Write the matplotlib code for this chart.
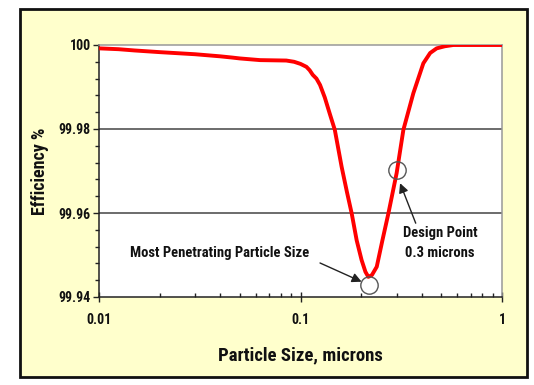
import matplotlib
matplotlib.use("Agg")
import matplotlib.pyplot as plt
from matplotlib.patches import Rectangle
from matplotlib.ticker import FixedLocator, LogLocator, NullFormatter
from matplotlib import font_manager

# ---- data ----
particle_size = [0.01, 0.0125, 0.015, 0.02, 0.03, 0.04, 0.046, 0.05, 0.063, 0.085,
                 0.093, 0.1, 0.107, 0.111, 0.115, 0.12, 0.125, 0.132, 0.14, 0.148,
                 0.16, 0.17, 0.1795, 0.19, 0.201, 0.21, 0.217, 0.226, 0.239, 0.255,
                 0.273, 0.30, 0.324, 0.363, 0.407, 0.44, 0.474, 0.52, 0.573, 0.7, 1.0]
efficiency = [99.9992, 99.9990, 99.9987, 99.9983, 99.9978, 99.9973, 99.9970, 99.9968,
              99.9964, 99.9963, 99.9960, 99.9955, 99.9948, 99.9940, 99.9929, 99.9920,
              99.9905, 99.9875, 99.9835, 99.9798, 99.9710, 99.9650, 99.9599, 99.9535,
              99.9488, 99.9460, 99.9448, 99.9452, 99.9472, 99.9535, 99.9599, 99.9695,
              99.9798, 99.9885, 99.99564, 99.9981, 99.9992, 99.9997, 100.0, 100.0, 100.0]
y_ticks = [99.94, 99.96, 99.98, 100.0]
y_tick_labels = ["99.94", "99.96", "99.98", "100"]
x_ticks = [0.01, 0.1, 1]
x_tick_labels = ["0.01", "0.1", "1"]
mpps_point = (0.22, 99.9429)
design_point = (0.30, 99.9702)


def _w(v):
    if isinstance(v, (int, float)):
        return v
    return {"bold": 700, "heavy": 800, "black": 900, "semibold": 600, "demibold": 600}.get(str(v).lower(), 400)


bold_fams = {f.name for f in font_manager.fontManager.ttflist if _w(f.weight) >= 700}
cands = ["Liberation Sans Narrow", "Archivo Narrow", "Roboto Condensed",
         "Fira Sans Condensed", "Asap Condensed", "IBM Plex Sans Condensed",
         "Barlow Semi Condensed", "Encode Sans Semi Condensed", "PT Sans Narrow"]
fam = [c for c in cands if c in bold_fams][:1]
fam += ["DejaVu Sans"]
plt.rcParams["font.family"] = fam
plt.rcParams["font.stretch"] = "condensed"

W, H = 534, 385
fig = plt.figure(figsize=(W / 100, H / 100), dpi=100)
fig.patch.set_facecolor("white")

# yellow frame
fig.patches.append(Rectangle((20 / W, 1 - 377 / H), (527 - 20) / W, (377 - 9) / H,
                             transform=fig.transFigure, facecolor="#FFFFCC",
                             edgecolor="#111111", linewidth=2, zorder=-10))

ax = fig.add_axes([99 / W, 1 - 297 / H, (502 - 99) / W, (297 - 45) / H])
ax.set_zorder(1)
ax.set_facecolor("white")
ax.set_xscale("log")
ax.set_xlim(0.01, 1)
ax.set_ylim(99.94, 100.0)

for yv in [99.96, 99.98]:
    ax.axhline(yv, color="#444444", linewidth=1.1, zorder=1)

ax.plot(particle_size, efficiency, color="#FF0000", linewidth=2.8, zorder=3,
        solid_joinstyle="round", solid_capstyle="round")

ax.spines["left"].set_color("#222222")
ax.spines["bottom"].set_color("#222222")
ax.spines["top"].set_color("#999999")
ax.spines["right"].set_color("#999999")
for s in ax.spines.values():
    s.set_linewidth(1.1)

ax.yaxis.set_major_locator(FixedLocator(y_ticks))
ax.set_yticklabels(y_tick_labels)
ax.yaxis.set_minor_locator(FixedLocator([99.94 + 0.004 * i for i in range(16)]))
ax.xaxis.set_major_locator(FixedLocator(x_ticks))
ax.set_xticklabels(x_tick_labels)
ax.xaxis.set_minor_locator(LogLocator(base=10, subs=range(2, 10)))
ax.xaxis.set_minor_formatter(NullFormatter())

ax.tick_params(axis="y", which="major", direction="out", length=4, width=1,
               labelsize=10, pad=2, colors="#222222")
ax.tick_params(axis="y", which="minor", direction="out", length=3, width=1, colors="#222222")
ax.tick_params(axis="x", which="major", direction="inout", length=7, width=1,
               labelsize=10, pad=8, colors="#222222")
ax.tick_params(axis="x", which="minor", direction="in", length=3, width=1, colors="#222222")
for lab in ax.get_xticklabels() + ax.get_yticklabels():
    lab.set_fontweight("bold")
    lab.set_color("#111111")

ax.set_xlabel("Particle Size, microns", fontsize=13.5, fontweight="bold", labelpad=14,
              color="#111111")
ax.set_ylabel("Efficiency %", fontsize=13, fontweight="bold", labelpad=7, color="#111111")

for pt in [mpps_point, design_point]:
    ax.plot([pt[0]], [pt[1]], marker="o", markersize=12.5, markerfacecolor="none",
            markeredgecolor="#555555", markeredgewidth=1.0, zorder=4, clip_on=False)

ax.text(0.0399, 99.9505, "Most Penetrating Particle Size", ha="center", va="center",
        fontsize=10.5, fontweight="bold", color="#111111", zorder=5)
ax.annotate("", xy=(0.201, 99.94364), xytext=(0.125, 99.9481),
            arrowprops=dict(arrowstyle="-|>", color="#222222", lw=1.0,
                            mutation_scale=14, shrinkA=0, shrinkB=0))
ax.annotate("Design Point\n0.3 microns", xy=(0.312, 99.9671), xytext=(0.492, 99.95286),
            ha="center", va="center", fontsize=10.5, fontweight="bold", color="#111111",
            linespacing=1.55,
            arrowprops=dict(arrowstyle="-|>", color="#222222", lw=1.0,
                            mutation_scale=14, shrinkA=0, shrinkB=0,
                            relpos=(0.19, 1.0)))

fig.savefig("out.png", dpi=100, facecolor=fig.get_facecolor())
